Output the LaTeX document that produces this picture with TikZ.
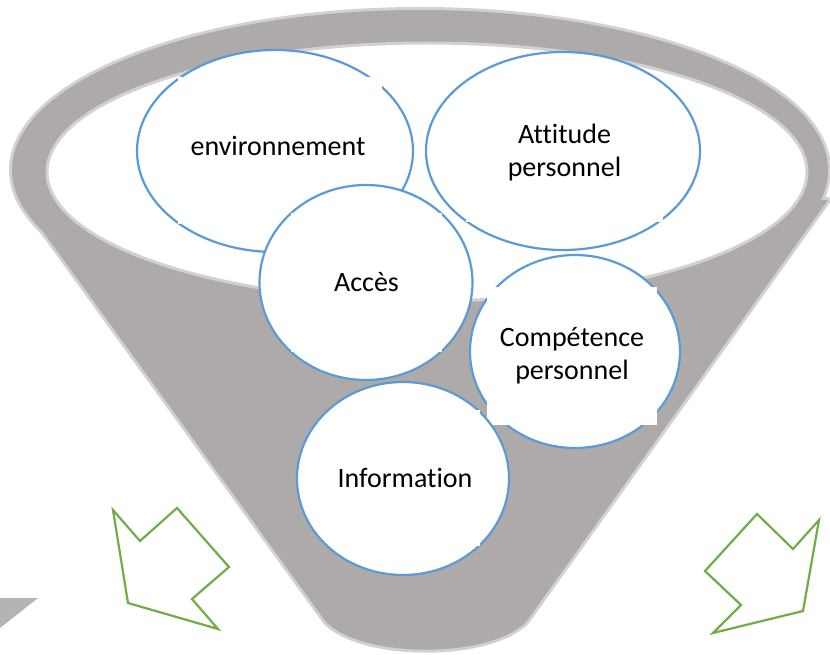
\documentclass[tikz,border=0pt]{standalone}
\usepackage{fontspec}
\setmainfont{Carlito}[Ligatures=NoCommon]
\usetikzlibrary{shapes.geometric}
\definecolor{funnelgray}{RGB}{174,170,170}
\definecolor{rimgray}{RGB}{210,208,208}
\definecolor{bubbleblue}{RGB}{91,155,213}
\definecolor{arrowgreen}{RGB}{112,173,71}
\definecolor{piecegray}{RGB}{180,180,180}
\begin{document}
\begin{tikzpicture}[x=1pt,y=-1pt,
    bubble/.style={ellipse,draw=bubbleblue,line width=2.2pt,fill=white,inner sep=0pt},
    textbox/.style={rectangle,fill=white,inner sep=0pt,align=center},
    greenarrow/.style={draw=arrowgreen,line width=2.2pt,line join=miter}]
            \useasboundingbox (0,0) rectangle (830,655);
            {\fontsize{28}{33}\selectfont

            % Drawing funnel border
            \draw [rimgray, line width=6pt] (420,170) ellipse (408 and 160);%
            \draw [rimgray, line width=6pt, line join=round] (18,197) -- (326,622) .. controls (364,659) and (488,659) .. (526,622) -- (828,200) -- cycle;%

            % Drawing funnel body
            \fill [funnelgray] (420,170) ellipse (408 and 160);%
            \fill [funnelgray] (18,197) -- (326,622) .. controls (364,659) and (488,659) .. (526,622) -- (828,200) -- cycle;%

            % Drawing funnel opening
            \draw [rimgray, line width=3pt, fill=white] (427,172) ellipse (380 and 129);%

            % Drawing piece at bottom left
            \fill [piecegray] (0,598) -- (38,598) -- (0,628) -- cycle;%

            % Marking bubble environnement
            \node [bubble, minimum width=276, minimum height=202] (env) at (275,151) {};%
            \node [textbox, minimum width=204, minimum height=147] (envtext) at (280,151) {};%
            \draw (278,146) node (envlabel) {environnement};%

            % Marking bubble Attitude personnel
            \node [bubble, minimum width=274, minimum height=198] (att) at (563,151) {};%
            \node [textbox, minimum width=197, minimum height=138] (atttext) at (564.5,153) {Attitude\\personnel};%

            % Marking bubble Acces
            \node [bubble, minimum width=213, minimum height=195] (acc) at (366,282.5) {};%
            \node [textbox, minimum width=151, minimum height=139] (acctext) at (366.5,282.5) {Accès};%

            % Marking bubble Competence personnel
            \node [bubble, minimum width=210, minimum height=193] (comp) at (575,351.5) {};%
            \node [textbox, minimum width=170, minimum height=138] (comptext) at (572,356) {Compétence\\personnel};%

            % Marking bubble Information
            \node [bubble, minimum width=212, minimum height=193] (info) at (403,478.5) {};%
            \node [textbox, minimum width=150, minimum height=136] (infotext) at (405,478) {Information};%

            % Drawing arrow left
            \draw [greenarrow] (113,510) -- (140,541) -- (177,508) -- (229,567) -- (192,599) -- (218,629) -- (128,603) -- cycle;%

            % Drawing arrow right
            \draw [greenarrow] (757,514) -- (793,549) -- (819,520) -- (803,611) -- (713,633) -- (741,605) -- (705,571) -- cycle;%
            }
        \end{tikzpicture}
\end{document}
